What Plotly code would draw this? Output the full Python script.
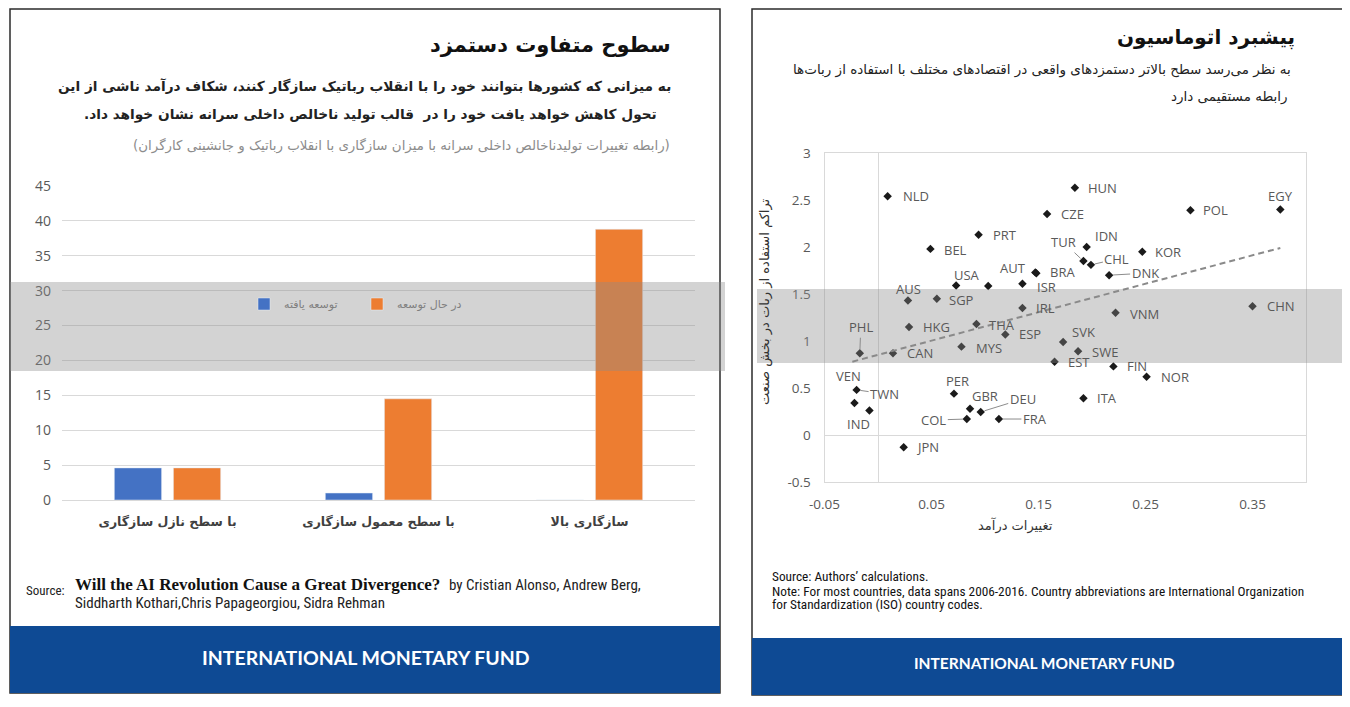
import plotly.graph_objects as go

# ---------------- data: left bar chart ----------------
categories = ["با سطح نازل سازگاری", "با سطح معمول سازگاری", "سازگاری بالا"]
developed = [4.6, 1.0, 0.0]
developing = [4.6, 14.5, 38.8]
series_names = ["توسعه یافته", "در حال توسعه"]
bar_ticks = [0, 5, 10, 15, 20, 25, 30, 35, 40, 45]

# ---------------- data: right scatter ----------------
countries = ["NLD", "PRT", "BEL", "USA", "", "AUT", "BRA", "ISR", "AUS", "SGP",
             "IRL", "HKG", "THA", "ESP", "MYS", "CAN", "PHL", "TWN", "VEN", "IND",
             "PER", "GBR", "DEU", "COL", "FRA", "JPN", "HUN", "CZE", "POL", "EGY",
             "IDN", "TUR", "CHL", "KOR", "DNK", "CHN", "VNM", "SVK", "SWE", "EST",
             "FIN", "NOR", "ITA"]
income_change = [0.009, 0.094, 0.049, 0.073, 0.103, 0.147, 0.148, 0.135, 0.028, 0.055,
                 0.135, 0.029, 0.092, 0.119, 0.078, 0.014, -0.017, -0.020, -0.022, -0.008,
                 0.071, 0.086, 0.096, 0.083, 0.113, 0.024, 0.184, 0.158, 0.292, 0.376,
                 0.195, 0.192, 0.199, 0.247, 0.216, 0.350, 0.222, 0.173, 0.187, 0.165,
                 0.220, 0.251, 0.192]
robot_density = [2.54, 2.13, 1.98, 1.59, 1.585, 1.73, 1.72, 1.61, 1.43, 1.45,
                 1.35, 1.15, 1.18, 1.07, 0.94, 0.87, 0.87, 0.48, 0.34, 0.26,
                 0.44, 0.28, 0.245, 0.17, 0.17, -0.13, 2.63, 2.35, 2.39, 2.40,
                 2.00, 1.85, 1.81, 1.95, 1.70, 1.37, 1.30, 0.99, 0.89, 0.78,
                 0.73, 0.62, 0.39]
trend_x = [-0.024, 0.376]
trend_y = [0.78, 1.99]
sc_xticks = [-0.05, 0.05, 0.15, 0.25, 0.35]
sc_xticktext = ["-0.05", "0.05", "0.15", "0.25", "0.35"]
sc_yticks = [-0.5, 0, 0.5, 1, 1.5, 2, 2.5, 3]
sc_yticktext = ["-0.5", "0", "0.5", "1", "1.5", "2", "2.5", "3"]

# label placement (pixel offsets of label centre from point) -- style only
label_offsets = {
    "NLD": (28, 0), "PRT": (26, 0), "BEL": (25, 1), "USA": (11, -11), "AUT": (-22, -4),
    "BRA": (26, -1), "ISR": (24, 3), "AUS": (1, -12), "SGP": (25, 1), "IRL": (23, 0),
    "HKG": (27, 0), "THA": (26, 1), "ESP": (25, 0), "MYS": (28, 1), "CAN": (27, 0),
    "PHL": (1, -26), "TWN": (28, 4), "VEN": (-6, -27), "IND": (-11, 13), "PER": (4, -13),
    "GBR": (15, -13), "DEU": (42, -13), "COL": (-33, 1), "FRA": (36, 0), "JPN": (24, 0),
    "HUN": (28, 0), "CZE": (25, 0), "POL": (25, 0), "EGY": (0, -13), "IDN": (20, -11),
    "TUR": (-20, -19), "CHL": (26, -6), "KOR": (26, 0), "DNK": (36, -2), "CHN": (28, 0),
    "VNM": (29, 1), "SVK": (20, -10), "SWE": (27, 1), "EST": (24, 0), "FIN": (24, 0),
    "NOR": (28, 0), "ITA": (24, 0),
}
leaders = {"PHL", "TWN", "DEU", "COL", "FRA", "TUR", "CHL", "DNK"}

# the page body has an 8px margin: the figure is sized/offset to compensate
OFF = 8
W, H = 1350 - OFF, 707 - OFF
def PX(px):
    return (px - OFF) / W
def PY(py):
    return 1 - (py - OFF) / H

def rtl(s):
    return "\u202b" + s + "\u202c"

FA = "DejaVu Sans"
LAT = "Open Sans, Noto Sans, sans-serif"
NARROW = "Liberation Sans Narrow, Roboto Condensed, Roboto, sans-serif"
BLUE = "#0e4a94"

fig = go.Figure()
fig.add_trace(go.Bar(x=categories, y=developed, name=series_names[0],
                     marker_color="#4472c4", xaxis="x", yaxis="y"))
fig.add_trace(go.Bar(x=categories, y=developing, name=series_names[1],
                     marker_color="#ed7d31", xaxis="x", yaxis="y"))
fig.add_trace(go.Scatter(x=income_change, y=robot_density, mode="markers",
                         marker=dict(symbol="diamond", size=6.5, color="#1a1a1a"),
                         xaxis="x2", yaxis="y2", showlegend=False))
fig.add_trace(go.Scatter(x=trend_x, y=trend_y, mode="lines",
                         line=dict(color="#8a8a8a", dash="6px,4px", width=2),
                         xaxis="x2", yaxis="y2", showlegend=False))

shapes = []
# panel borders
shapes.append(dict(type="rect", xref="paper", yref="paper", x0=PX(10), x1=PX(720), y0=PY(693), y1=PY(9),
                   line=dict(color="#2b2b2b", width=1.5), fillcolor="rgba(0,0,0,0)", layer="below"))
shapes.append(dict(type="rect", xref="paper", yref="paper", x0=PX(752), x1=PX(1343), y0=PY(695), y1=PY(9),
                   line=dict(color="#2b2b2b", width=1.5), fillcolor="rgba(0,0,0,0)", layer="below"))
# blue bands
shapes.append(dict(type="rect", xref="paper", yref="paper", x0=PX(10), x1=PX(720), y0=PY(693), y1=PY(626),
                   line=dict(width=0), fillcolor=BLUE, layer="below"))
shapes.append(dict(type="rect", xref="paper", yref="paper", x0=PX(752), x1=PX(1343), y0=PY(695), y1=PY(638),
                   line=dict(width=0), fillcolor=BLUE, layer="below"))
# watermark bands
shapes.append(dict(type="rect", xref="paper", yref="paper", x0=PX(10), x1=PX(725), y0=PY(371), y1=PY(282),
                   line=dict(width=0), fillcolor="rgba(140,140,140,0.38)", layer="above"))
shapes.append(dict(type="rect", xref="paper", yref="paper", x0=PX(757), x1=PX(1343), y0=PY(363), y1=PY(289),
                   line=dict(width=0), fillcolor="rgba(140,140,140,0.38)", layer="above"))

ann = []
def txt(text, x, y, size, color="#222", family=FA, xanchor="center", weight="normal", **kw):
    ann.append(dict(text=text, x=PX(x), y=PY(y), xref="paper", yref="paper", showarrow=False,
                    xanchor=xanchor, yanchor="middle",
                    font=dict(size=size, color=color, family=family, weight=weight), **kw))

# left texts
txt(rtl("سطوح متفاوت دستمزد"), 673, 45, 21, color="#111", xanchor="right", weight="bold")
txt(rtl("به میزانی که کشورها بتوانند خود را با انقلاب رباتیک سازگار کنند، شکاف درآمد ناشی از این"),
    673, 87, 13.7, color="#222", xanchor="right", weight="bold")
txt(rtl("تحول کاهش خواهد یافت خود را در  قالب تولید ناخالص داخلی سرانه نشان خواهد داد."),
    659, 114, 13.7, color="#222", xanchor="right", weight="bold")
txt(rtl("(رابطه تغییرات تولیدناخالص داخلی سرانه با میزان سازگاری با انقلاب رباتیک و جانشینی کارگران)"),
    672, 146, 13.4, color="#8c8c8c", xanchor="right")
txt("Source:", 24, 590, 13, color="#222", family=NARROW, xanchor="left")
txt("Will the AI Revolution Cause a Great Divergence?", 73, 584, 17, color="#111",
    family="Liberation Serif, serif", xanchor="left", weight="bold")
txt("by Cristian Alonso, Andrew Berg,", 447, 585, 15, color="#222", family=NARROW, xanchor="left")
txt("Siddharth Kothari,Chris Papageorgiou, Sidra Rehman", 73, 603, 15, color="#222",
    family=NARROW, xanchor="left")
txt("INTERNATIONAL MONETARY FUND", 366, 657, 19.5, color="white", family="Lato, Open Sans, sans-serif",
    weight="bold")

# right texts
txt(rtl("پیشبرد اتوماسیون"), 1297, 37, 20, color="#111", xanchor="right", weight="bold")
txt(rtl("به نظر می‌رسد سطح بالاتر دستمزدهای واقعی در اقتصادهای مختلف با استفاده از ربات‌ها"),
    1293, 70, 13.5, color="#222", xanchor="right")
txt(rtl("رابطه مستقیمی دارد"), 1290, 96, 13.5, color="#222", xanchor="right")
txt(rtl("تراکم استفاده از ربات در بخش صنعت"), 765, 302, 13, color="#333", textangle=-90)
txt(rtl("تغییرات درآمد"), 1015, 525, 13, color="#333")
txt("Source: Authors’ calculations.", 770, 576, 13.3, color="#111", family=NARROW, xanchor="left")
txt("Note: For most countries, data spans 2006-2016. Country abbreviations are International Organization",
    770, 591, 13.3, color="#111", family=NARROW, xanchor="left")
txt("for Standardization (ISO) country codes.", 770, 604, 13.3, color="#111", family=NARROW, xanchor="left")
txt("INTERNATIONAL MONETARY FUND", 1044, 663, 15.5, color="white", family="Lato, Open Sans, sans-serif",
    weight="bold")

# scatter labels
for c, xv, yv in zip(countries, income_change, robot_density):
    if not c:
        continue
    dx, dy = label_offsets[c]
    lead = c in leaders
    ann.append(dict(text=c, x=xv, y=yv, xref="x2", yref="y2", showarrow=True,
                    ax=dx, ay=dy, axref="pixel", ayref="pixel",
                    arrowhead=0, arrowwidth=1, standoff=4,
                    arrowcolor="#8c8c8c" if lead else "rgba(0,0,0,0)",
                    xanchor="center", yanchor="middle",
                    font=dict(size=13, color="#595959", family=LAT)))

fig.update_layout(
    width=W, height=H, autosize=False,
    margin=dict(l=0, r=0, t=0, b=0, pad=0, autoexpand=False),
    paper_bgcolor="white", plot_bgcolor="white",
    barmode="group", bargap=0.44, bargroupgap=0.2,
    shapes=shapes, annotations=ann,
    legend=dict(orientation="h", x=PX(244), y=PY(304), xanchor="left", yanchor="middle",
                font=dict(size=11, color="#7f7f7f", family=FA), bgcolor="rgba(0,0,0,0)",
                entrywidth=68, traceorder="normal"),
    xaxis=dict(domain=[PX(62), PX(695)], anchor="y", type="category", showline=False, ticks="",
               tickfont=dict(size=12.5, color="#404040", family=FA, weight="bold"),
               ticklabelstandoff=12, fixedrange=True),
    yaxis=dict(domain=[PY(500), PY(186)], anchor="x", range=[0, 45], tickvals=bar_ticks,
               showgrid=True, gridcolor="#d9d9d9", gridwidth=1, zeroline=True,
               zerolinecolor="#d9d9d9", zerolinewidth=1, showline=False, ticks="",
               tickfont=dict(size=14, color="#595959", family=LAT), ticklabelstandoff=10),
    xaxis2=dict(domain=[PX(824.5), PX(1306)], anchor="y2", range=[-0.05, 0.40],
                tickvals=sc_xticks, ticktext=sc_xticktext, showgrid=False,
                zeroline=True, zerolinecolor="#d9d9d9", zerolinewidth=1,
                showline=True, mirror=True, linecolor="#d9d9d9", linewidth=1, ticks="",
                tickfont=dict(size=13.5, color="#595959", family=LAT), ticklabelstandoff=10),
    yaxis2=dict(domain=[PY(482), PY(153)], anchor="x2", range=[-0.5, 3],
                tickvals=sc_yticks, ticktext=sc_yticktext, showgrid=False,
                zeroline=True, zerolinecolor="#d9d9d9", zerolinewidth=1,
                showline=True, mirror=True, linecolor="#d9d9d9", linewidth=1, ticks="",
                tickfont=dict(size=13.5, color="#595959", family=LAT), ticklabelstandoff=10),
)

fig.write_html("out.html")
